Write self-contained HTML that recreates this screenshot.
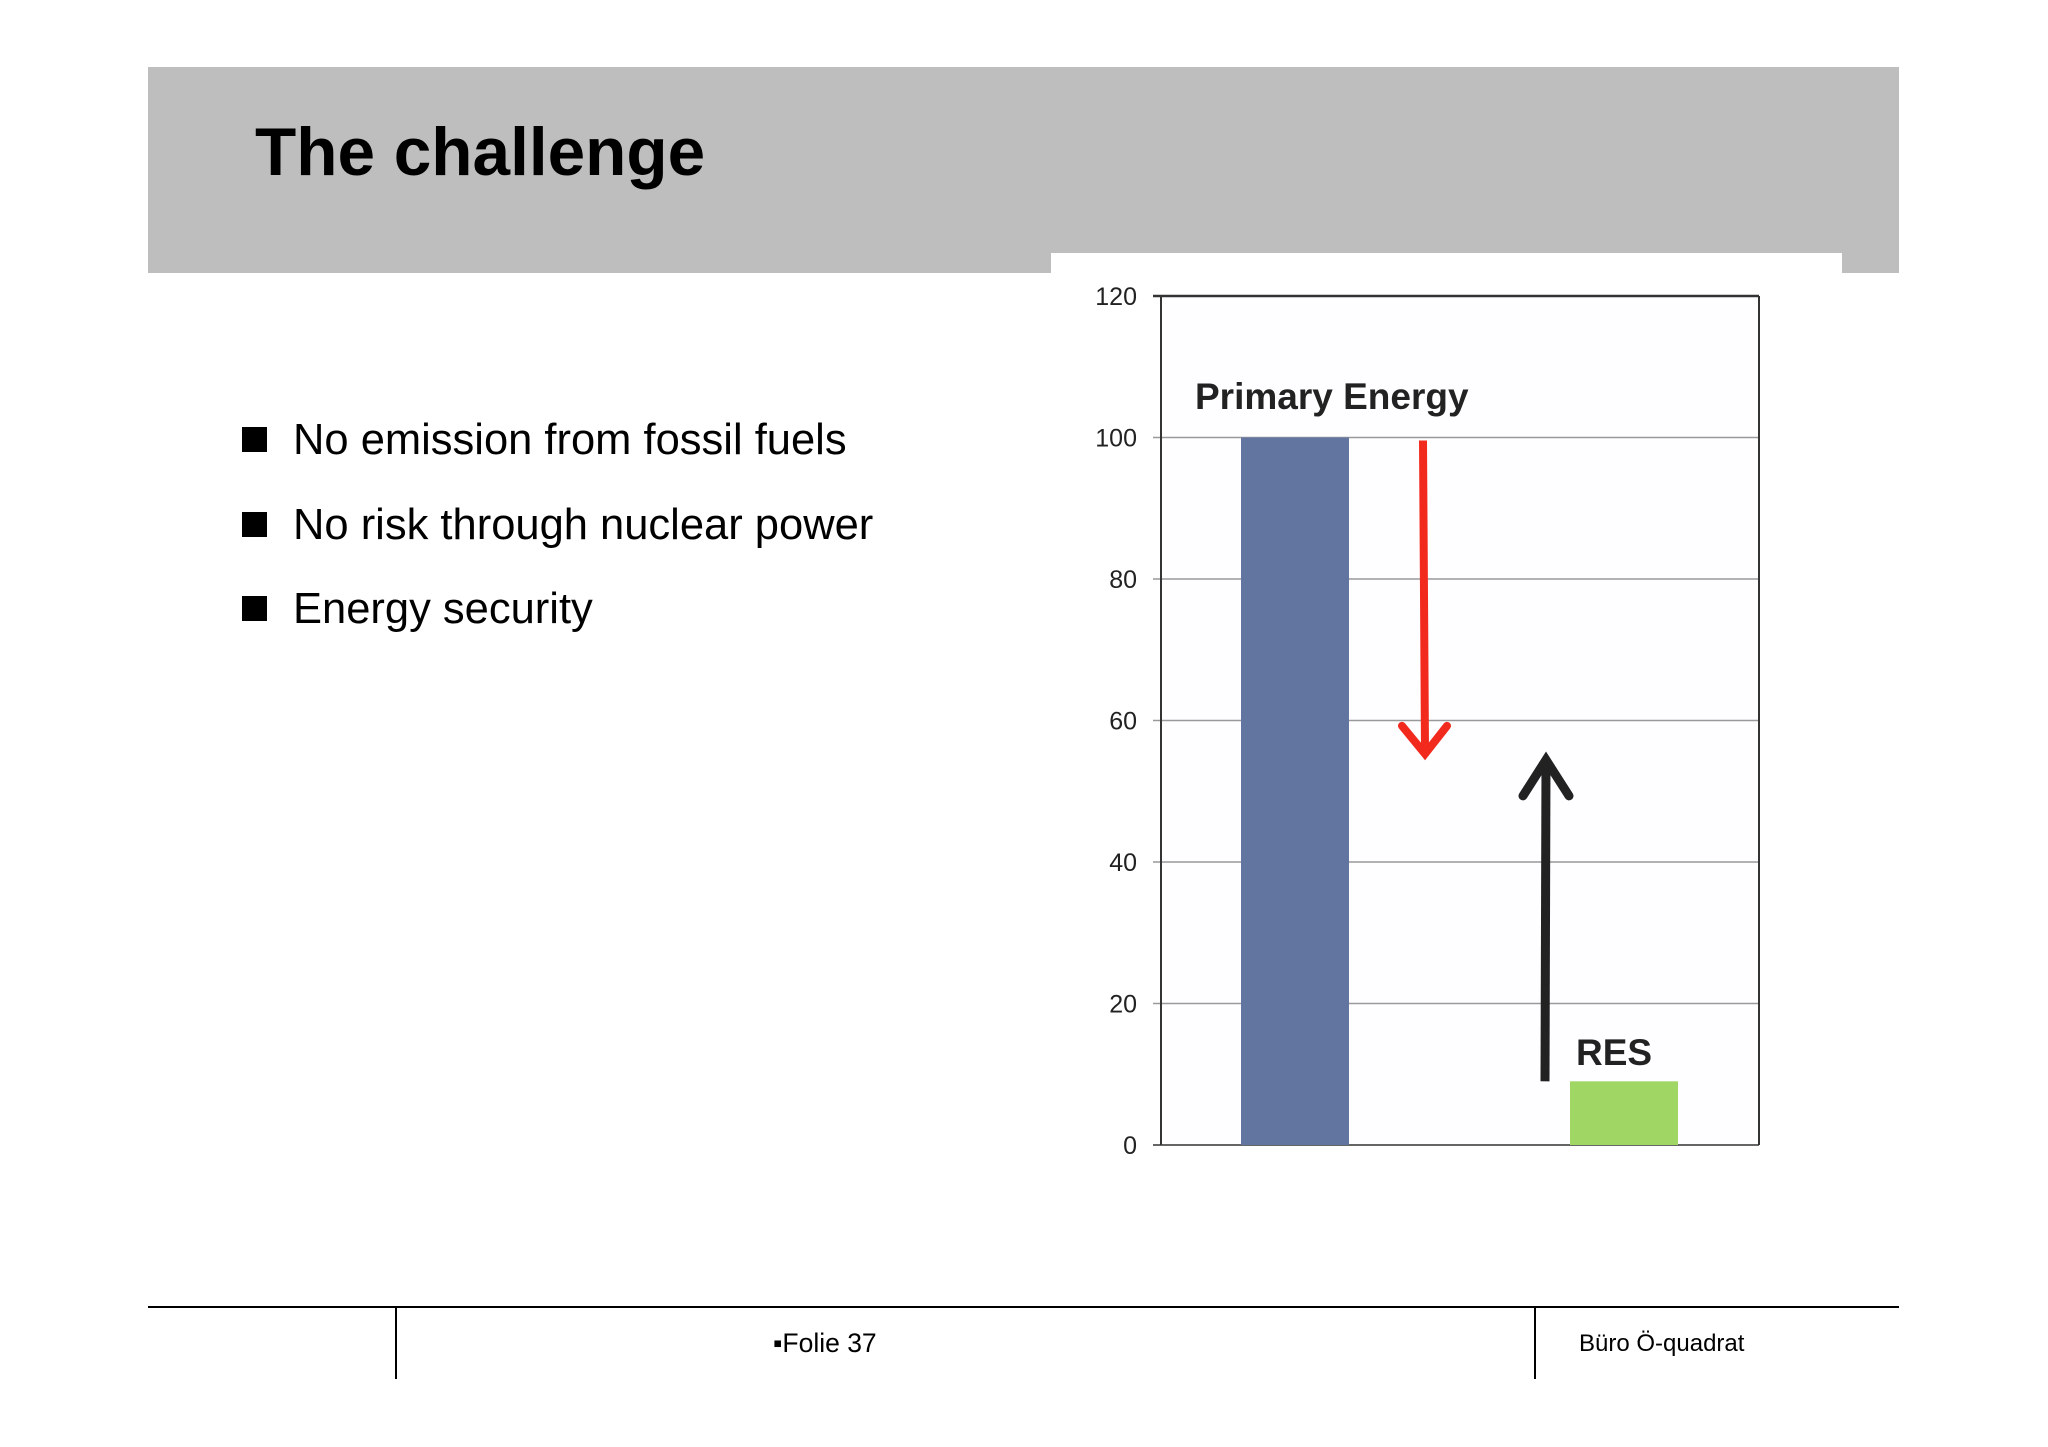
<!DOCTYPE html>
<html><head><meta charset="utf-8"><style>
body{margin:0;width:2048px;height:1447px;background:#fff;position:relative;overflow:hidden;font-family:"Liberation Sans",sans-serif}
.abs{position:absolute}
</style></head><body>
<div class="abs" style="left:148px;top:67px;width:1751px;height:206px;background:#bebebe"></div>
<div class="abs" style="left:1051px;top:253px;width:791px;height:22px;background:#fff"></div>
<div class="abs" style="left:255px;top:113px;font-size:67.5px;font-weight:bold;color:#000;line-height:80px">The challenge</div>
<div>
<div class="abs" style="left:242px;top:414px;font-size:43.5px;line-height:52px"><span style="display:inline-block;width:25px;height:25px;background:#000;margin-right:26px;vertical-align:2px"></span>No emission from fossil fuels</div>
<div class="abs" style="left:242px;top:499px;font-size:43.5px;line-height:52px"><span style="display:inline-block;width:25px;height:25px;background:#000;margin-right:26px;vertical-align:2px"></span>No risk through nuclear power</div>
<div class="abs" style="left:242px;top:583px;font-size:43.5px;line-height:52px"><span style="display:inline-block;width:25px;height:25px;background:#000;margin-right:26px;vertical-align:2px"></span>Energy security</div>
</div>
<svg class="abs" style="left:0;top:0" width="2048" height="1447" id="chart"></svg>
<div class="abs" style="left:148px;top:1306px;width:1751px;height:2px;background:#000"></div>
<div class="abs" style="left:395px;top:1307px;width:2px;height:72px;background:#000"></div>
<div class="abs" style="left:1534px;top:1307px;width:2px;height:72px;background:#000"></div>
<div class="abs" style="left:773px;top:1328px;font-size:26.5px">▪Folie 37</div>
<div class="abs" style="left:1579px;top:1330px;font-size:24px">Büro Ö-quadrat</div>
<script>
const ticks=[0,20,40,60,80,100,120];
const categories=["Primary Energy","RES"];
const values=[100,9];
const arrowDown=[100,55];
const arrowUp=[9,55];
const NS="http://www.w3.org/2000/svg";
const svg=document.getElementById('chart');
const L=1161,R=1759,T=296,B=1145;
const y=v=>B-(v/120)*(B-T);
const barX=[1241,1570],barW=108;
function mk(t,a,p){const e=document.createElementNS(NS,t);for(const k in a)e.setAttribute(k,a[k]);(p||svg).appendChild(e);return e;}
mk('rect',{x:L,y:T,width:R-L,height:B-T,fill:'#fefdff'});
ticks.forEach(t=>{
 const g=mk('line',{x1:L-8,x2:R,y1:y(t),y2:y(t),stroke:t==0||t==120?'#333':'#999','stroke-width':t==120?2.5:1.5});
 
 
 const tx=mk('text',{x:1137,y:y(t)+9,'text-anchor':'end','font-size':25,fill:'#222','font-family':'Liberation Sans'});
 tx.textContent=t;
 
 
});
mk('line',{x1:L,x2:L,y1:T,y2:B,stroke:'#333','stroke-width':2});
mk('line',{x1:R,x2:R,y1:T,y2:B,stroke:'#333','stroke-width':2});
const colors=['#6275a1','#9fd664'];
values.forEach((v,i)=>{
 const r=mk('rect',{x:barX[i],y:y(v),width:barW,height:B-y(v),fill:colors[i]});
 
 
});
const l1=mk('text',{x:1195,y:409,'font-size':37,'font-weight':'bold',fill:'#222','font-family':'Liberation Sans'});
l1.textContent=categories[0];


const l2=mk('text',{x:1576,y:1065,'font-size':37,'font-weight':'bold',fill:'#222','font-family':'Liberation Sans'});
l2.textContent=categories[1];


const ax=1424,ay2=y(arrowDown[1]);
const ra=mk('g',{});


mk('line',{x1:ax-1,y1:y(arrowDown[0])+3,x2:ax+1,y2:ay2-6,stroke:'#f22a1e','stroke-width':8},ra);
mk('polyline',{points:`${ax-22},${ay2-30} ${ax+1},${ay2-2} ${ax+23},${ay2-30}`,fill:'none',stroke:'#f22a1e','stroke-width':8,'stroke-linecap':'round'},ra);
const bx=1545,by2=y(arrowUp[1]);
const ba=mk('g',{});


mk('line',{x1:bx,y1:y(arrowUp[0]),x2:bx+1,y2:by2+6,stroke:'#222','stroke-width':9},ba);
mk('polyline',{points:`${bx-22},${by2+40} ${bx+1},${by2+4} ${bx+24},${by2+40}`,fill:'none',stroke:'#222','stroke-width':9,'stroke-linecap':'round'},ba);
</script>
</body></html>
